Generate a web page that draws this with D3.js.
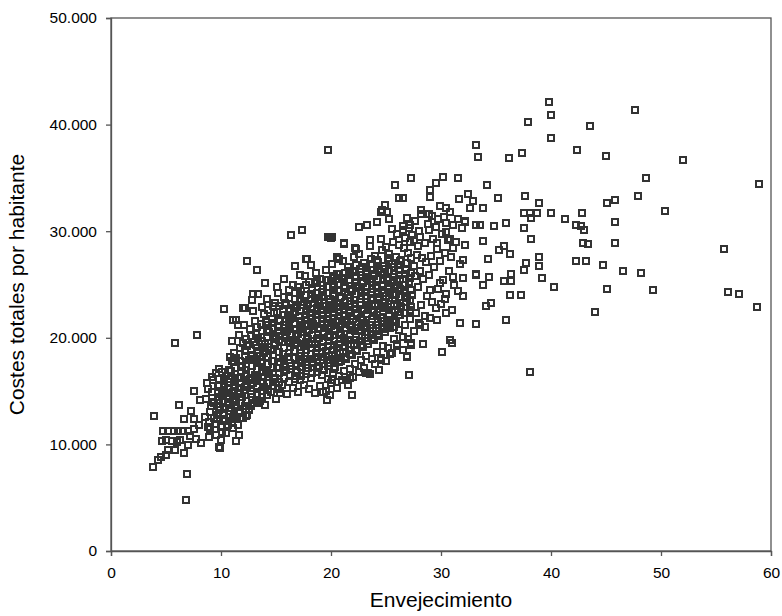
<!DOCTYPE html>
<html>
<head>
<meta charset="utf-8">
<script src="https://cdn.jsdelivr.net/npm/d3@7"></script>
<style>
  body { margin: 0; background: #fff; }
  svg text { font-family: "Liberation Sans", Arial, Helvetica, sans-serif; fill: #000; }
</style>
</head>
<body>
<svg id="chart" width="782" height="616"></svg>
<script>
// Axis settings and labels
const xTicks = [0, 10, 20, 30, 40, 50, 60];
const yTicks = [0, 10000, 20000, 30000, 40000, 50000];
const xTitle = "Envejecimiento";
const yTitle = "Costes totales por habitante";

// [envejecimiento, costes por habitante]
// Low-ageing municipalities (left tail of the cloud)
const puntosBajos = [
  [3.8,7900],[4.3,8500],[4.5,8800],[6.9,7200],[6.8,4800],[3.9,12700],[6.2,13700],[7.5,15000],
  [5.8,19500],[7.8,20300],[4.7,11300],[5.2,11300],[5.7,11300],[6.1,11300],[6.5,11300],[7.0,11300],
  [7.5,11400],[4.6,10300],[5.0,10400],[5.5,10300],[6.0,10200],[6.3,10400],[5.2,9500],[5.8,9500],
  [6.6,9200],[8.2,10100],[9.8,9800],[9.9,9700],[11.4,10300],[11.6,10900],[12.3,12700],[6.6,12400],
  [7.5,12400],[7.3,13100],[8.5,12600],[9.0,13000],[9.4,12500],[9.8,13200],[10.3,12800],[10.7,13400],
  [11.1,12600],[11.6,13000],[8.1,14200],[8.6,14300],[9.2,14000],[9.7,14400],[10.2,14100],[10.6,14300],
  [11.1,14200],[8.7,15800],[9.3,16000],[9.8,15600],[10.1,16800],[10.6,15900],[11.0,17800],[11.2,15400],
  [11.8,16200],[12.3,15700],[12.8,16000],[13.3,15500],[13.8,15900],[14.2,15800],[12.4,12800],[8.0,11800],
  [8.8,11600],[9.5,11900],[10.1,11200],[10.6,11800],[11.1,11500],[7.2,10800],[7.7,10500],[8.9,10700],
  [9.2,14900],[10.4,14800],[11.5,14700],[10.0,10400],[5.0,9000],[7.0,9900]
];

// Upper-left edge of the cloud
const puntosBorde = [
  [12.4,27200],[13.3,26400],[14.0,25100],[10.3,22700],[12.9,24100],[13.4,24100],[12.8,23500],[12.2,22800],
  [11.4,21700],[11.5,21200],[11.1,21700],[12.0,22800],[15.1,24800],[15.7,25500],[17.2,25900],[18.7,25300],
  [20.2,25600],[16.4,29600],[17.4,30100],[19.9,29500],[20.0,29400],[19.7,29500],[20.1,29500],[17.7,27400],
  [18.2,26800],[16.7,26700],[21.2,28800],[22.3,28300],[20.7,27400],[17.8,27400],[19.7,37600]
];

// Central cloud
const puntosNube = [
  [9.0,11400],[8.9,12100],[9.1,13600],[8.8,15200],[9.2,16300],
  [9.5,10900],[9.6,12400],[9.4,13900],[9.7,14800],[9.5,16700],
  [10.0,11600],[10.2,12900],[9.9,13500],[10.1,14600],[10.3,15400],[9.8,17100],
  [10.5,11100],[10.4,12200],[10.7,13800],[10.6,14500],[10.3,15700],[10.5,16400],[10.8,18200],
  [11.0,12000],[11.2,12800],[10.9,13400],[11.1,14900],[11.3,15600],[10.9,16900],[11.2,18600],[11.0,19700],
  [11.5,11800],[11.7,13100],[11.4,14000],[11.6,15300],[11.5,16200],[11.8,17400],[11.4,18100],[11.6,20300],
  [12.0,12500],[12.2,13600],[11.9,14400],[12.1,15100],[12.3,16600],[11.9,17300],[12.2,18800],[12.0,19500],[12.1,21200],
  [12.5,13200],[12.7,14700],[12.4,15500],[12.6,16100],[12.5,17900],[12.8,18400],[12.4,19200],[12.6,20800],
  [13.0,13900],[13.2,14200],[12.9,15800],[13.1,16500],[13.3,17100],[12.9,18000],[13.0,19600],[13.2,20400],[13.1,21600],[12.9,22500],
  [13.5,14100],[13.7,15000],[13.4,16300],[13.6,17600],[13.5,18300],[13.8,19000],[13.4,20000],[13.6,21300],[13.7,22900],
  [14.0,13700],[14.2,14600],[13.9,15400],[14.1,16800],[14.3,17500],[13.9,18600],[14.0,19400],[14.2,20700],[14.1,21500],[13.9,22200],[14.2,23600],
  [14.5,14900],[14.7,15900],[14.4,16600],[14.6,17800],[14.5,18900],[14.8,19900],[14.4,20500],[14.6,21800],[14.7,23000],
  [15.0,14300],[15.2,15200],[14.9,16200],[15.1,17200],[15.3,18100],[14.9,19300],[15.0,20200],[15.2,21000],[15.1,22400],[14.9,23300],[15.2,24200],
  [15.5,15600],[15.7,16900],[15.4,17700],[15.6,18500],[15.5,19600],[15.8,20900],[15.4,21700],[15.6,22700],[15.7,23800],
  [16.0,14700],[16.2,15900],[15.9,17000],[16.1,18200],[16.3,19100],[15.9,20000],[16.0,20600],[16.2,21400],[16.1,22100],[15.9,23100],[16.2,24500],
  [16.5,15300],[16.7,16400],[16.4,17400],[16.6,18800],[16.5,19800],[16.8,20800],[16.4,21900],[16.6,22800],[16.7,23600],[16.5,25000],
  [17.0,14900],[17.2,16000],[16.9,16800],[17.1,17900],[17.3,18600],[16.9,19500],[17.0,20400],[17.2,21200],[17.1,22000],[16.9,22900],[17.2,24000],[17.0,24800],
  [17.5,15600],[17.7,16600],[17.4,17600],[17.6,18300],[17.5,19200],[17.8,20100],[17.4,21000],[17.6,21700],[17.7,22500],[17.5,23400],[17.3,24400],[17.6,25800],
  [18.0,15200],[18.2,16200],[17.9,17200],[18.1,18000],[18.3,19000],[17.9,19900],[18.0,20700],[18.2,21500],[18.1,22300],[17.9,23200],[18.2,24100],[18.0,25200],
  [18.5,14800],[18.7,16800],[18.4,17700],[18.6,18600],[18.5,19400],[18.8,20300],[18.4,21300],[18.6,22100],[18.7,22800],[18.5,23700],[18.3,24700],[18.6,26100],
  [19.0,15500],[19.2,16500],[18.9,17400],[19.1,18200],[19.3,19100],[18.9,20000],[19.0,20900],[19.2,21800],[19.1,22600],[18.9,23500],[19.2,24300],[19.0,25500],
  [19.5,15000],[19.7,16100],[19.4,17000],[19.6,17900],[19.5,18800],[19.8,19700],[19.4,20500],[19.6,21400],[19.7,22200],[19.5,23000],[19.3,23900],[19.6,24800],[19.5,26400],
  [20.0,15800],[20.2,16700],[19.9,17600],[20.1,18400],[20.3,19300],[19.9,20200],[20.0,21100],[20.2,21900],[20.1,22700],[19.9,23600],[20.2,24500],[20.0,25300],[20.1,26900],
  [20.5,15300],[20.7,16400],[20.4,17300],[20.6,18100],[20.5,19000],[20.8,19900],[20.4,20800],[20.6,21600],[20.7,22400],[20.5,23300],[20.3,24100],[20.6,25000],[20.5,26000],
  [21.0,16000],[21.2,16900],[20.9,17800],[21.1,18700],[21.3,19600],[20.9,20400],[21.0,21300],[21.2,22100],[21.1,23000],[20.9,23800],[21.2,24700],[21.0,25600],[21.1,27200],
  [21.5,15600],[21.7,17100],[21.4,18000],[21.6,18900],[21.5,19800],[21.8,20700],[21.4,21500],[21.6,22400],[21.7,23200],[21.5,24000],[21.3,24900],[21.6,25900],[21.5,26600],
  [22.0,16300],[22.2,17500],[21.9,18400],[22.1,19300],[22.3,20100],[21.9,21000],[22.0,21800],[22.2,22700],[22.1,23500],[21.9,24400],[22.2,25200],[22.0,26200],[22.1,27600],
  [22.5,16800],[22.7,17900],[22.4,18800],[22.6,19700],[22.5,20600],[22.8,21400],[22.4,22200],[22.6,23100],[22.7,23900],[22.5,24800],[22.3,25700],[22.6,26500],[22.5,27900],
  [23.0,17200],[23.2,18300],[22.9,19100],[23.1,20000],[23.3,20900],[22.9,21700],[23.0,22600],[23.2,23400],[23.1,24300],[22.9,25100],[23.2,26000],[23.0,27000],
  [23.5,16600],[23.7,18000],[23.4,19400],[23.6,20300],[23.5,21200],[23.8,22000],[23.4,22900],[23.6,23700],[23.7,24600],[23.5,25500],[23.3,26300],[23.6,27400],[23.5,28600],
  [24.0,17500],[24.2,18700],[23.9,19800],[24.1,20600],[24.3,21500],[23.9,22400],[24.0,23200],[24.2,24100],[24.1,24900],[23.9,25800],[24.2,26700],[24.0,27700],
  [24.5,18100],[24.7,19200],[24.4,20200],[24.6,21000],[24.5,21900],[24.8,22800],[24.4,23600],[24.6,24500],[24.7,25400],[24.5,26200],[24.3,27100],[24.6,28200],[24.5,29300],
  [25.0,17800],[25.2,19000],[24.9,20500],[25.1,21300],[25.3,22200],[24.9,23000],[25.0,23900],[25.2,24700],[25.1,25600],[24.9,26500],[25.2,27500],[25.0,28500],
  [25.5,18600],[25.7,19900],[25.4,20900],[25.6,21700],[25.5,22600],[25.8,23500],[25.4,24300],[25.6,25200],[25.7,26000],[25.5,26900],[25.3,27900],[25.6,29000],[25.5,30200],
  [26.0,19400],[26.2,20700],[25.9,21500],[26.1,22400],[26.3,23300],[25.9,24100],[26.0,25000],[26.2,25900],[26.1,26800],[25.9,27600],[26.2,28700],[26.0,29700],
  [26.5,20100],[26.7,21200],[26.4,22900],[26.6,24500],[26.5,25500],[26.8,26400],[26.4,27300],[26.6,28400],[26.7,29400],[26.5,30500],
  [27.0,19900],[27.2,21800],[26.9,23700],[27.1,25200],[27.3,26100],[26.9,27000],[27.0,28000],[27.2,29000],[27.1,30300],[26.9,31200],
  [27.5,20600],[27.7,22300],[27.4,24000],[27.6,25800],[27.5,26700],[27.8,27800],[27.4,29600],[27.6,31000],
  [28.0,21400],[28.2,23100],[27.9,24800],[28.1,26300],[28.3,27500],[27.9,28600],[28.0,30000],[28.2,32000],
  [28.5,22000],[28.7,23900],[28.4,25500],[28.6,27100],[28.5,28900],[28.8,30700],
  [29.0,21900],[29.2,23400],[28.9,25900],[29.1,27700],[29.3,29300],[28.9,31600],[29.0,33200],
  [29.5,22800],[29.7,24600],[29.4,26600],[29.6,28300],[29.5,30400],
  [30.0,23200],[30.2,25400],[29.9,27200],[30.1,29700],[30.3,31300],[29.9,32400],
  [30.5,24100],[30.7,26300],[30.4,28000],[30.6,29200],
  [31.0,22600],[31.2,25000],[30.9,27600],[31.1,30600],
  [31.5,24400],[31.7,26900],[31.4,29000],[31.6,33000],
  [32.0,25600],[32.2,28700],[31.9,30300]
];

// Densest part of the cloud
const puntosNucleo = [
  [9.75,12800],[9.8,14200],[9.7,15500],
  [10.25,12400],[10.3,13300],[10.2,14000],[10.25,15000],[10.3,16000],
  [10.75,12600],[10.8,13100],[10.7,14300],[10.75,15200],[10.8,16100],[10.7,17000],
  [11.25,12400],[11.3,13700],[11.2,14500],[11.25,15900],[11.3,16600],[11.2,17700],
  [11.75,12900],[11.8,13900],[11.7,14800],[11.75,15800],[11.8,16900],[11.7,17800],[11.75,19000],
  [12.25,13300],[12.3,14100],[12.2,15400],[12.25,16400],[12.3,17500],[12.2,18300],[12.25,19900],
  [12.75,13600],[12.8,14400],[12.7,15000],[12.75,16800],[12.8,17400],[12.7,18900],[12.75,20200],
  [13.25,14600],[13.3,15400],[13.2,16100],[13.25,17800],[13.3,18600],[13.2,19300],[13.25,21000],
  [13.75,14400],[13.8,15800],[13.7,16900],[13.75,17300],[13.8,18800],[13.7,19700],[13.75,20600],
  [14.25,15100],[14.3,16300],[14.2,17000],[14.25,18200],[14.3,19100],[14.2,20100],[14.25,21200],[14.3,22600],
  [14.75,15500],[14.8,16100],[14.7,17300],[14.75,18400],[14.8,19500],[14.7,20900],[14.75,21400],[14.8,22300],
  [15.25,15900],[15.3,16700],[15.2,17700],[15.25,18700],[15.3,19800],[15.2,20600],[15.25,21600],[15.3,23000],
  [15.75,16200],[15.8,17300],[15.7,18000],[15.75,19000],[15.8,20300],[15.7,21200],[15.75,22100],[15.8,23300],
  [16.25,16500],[16.3,17600],[16.2,18600],[16.25,19500],[16.3,20300],[16.2,21000],[16.25,21800],[16.3,22600],[16.2,23700],
  [16.75,16100],[16.8,17000],[16.7,18100],[16.75,19300],[16.8,20200],[16.7,21300],[16.75,22400],[16.8,23100],[16.7,24200],
  [17.25,16400],[17.3,17300],[17.2,18300],[17.25,19100],[17.3,20000],[17.2,20800],[17.25,21600],[17.3,22500],[17.2,23600],
  [17.75,16900],[17.8,18000],[17.7,18900],[17.75,19600],[17.8,20500],[17.7,21300],[17.75,22100],[17.8,23000],[17.7,24000],[17.75,25000],
  [18.25,16700],[18.3,17600],[18.2,18500],[18.25,19400],[18.3,20300],[18.2,21100],[18.25,21900],[18.3,22700],[18.2,23600],[18.25,24500],
  [18.75,17200],[18.8,18200],[18.7,19000],[18.75,19900],[18.8,20800],[18.7,21700],[18.75,22500],[18.8,23300],[18.7,24200],[18.75,25100],
  [19.25,17000],[19.3,17900],[19.2,18700],[19.25,19600],[19.3,20400],[19.2,21300],[19.25,22100],[19.3,23000],[19.2,23800],[19.25,24600],
  [19.75,17400],[19.8,18300],[19.7,19200],[19.75,20100],[19.8,20900],[19.7,21800],[19.75,22600],[19.8,23400],[19.7,24200],[19.75,25400],
  [20.25,17100],[20.3,18000],[20.2,18900],[20.25,19700],[20.3,20600],[20.2,21500],[20.25,22300],[20.3,23100],[20.2,24000],[20.25,24900],[20.3,25800],
  [20.75,17700],[20.8,18600],[20.7,19400],[20.75,20300],[20.8,21100],[20.7,22000],[20.75,22900],[20.8,23700],[20.7,24500],[20.75,25500],
  [21.25,18200],[21.3,19100],[21.2,20000],[21.25,20900],[21.3,21700],[21.2,22600],[21.25,23400],[21.3,24300],[21.2,25200],[21.25,26100],
  [21.75,18500],[21.8,19400],[21.7,20300],[21.75,21200],[21.8,22000],[21.7,22900],[21.75,23700],[21.8,24600],[21.7,25400],[21.75,26300],
  [22.25,18900],[22.3,19800],[22.2,20600],[22.25,21500],[22.3,22300],[22.2,23200],[22.25,24100],[22.3,24900],[22.2,25800],[22.25,26800],
  [22.75,19300],[22.8,20200],[22.7,21000],[22.75,21900],[22.8,22700],[22.7,23600],[22.75,24400],[22.8,25300],[22.7,26200],
  [23.25,19700],[23.3,20500],[23.2,21400],[23.25,22200],[23.3,23100],[23.2,23900],[23.25,24800],[23.3,25600],[23.2,26600],
  [23.75,20000],[23.8,20900],[23.7,21800],[23.75,22600],[23.8,23500],[23.7,24300],[23.75,25200],[23.8,26000],[23.7,26900],
  [24.25,20400],[24.3,21200],[24.2,22100],[24.25,23000],[24.3,23800],[24.2,24700],[24.25,25500],[24.3,26400],[24.2,27300],
  [24.75,20800],[24.8,21600],[24.7,22500],[24.75,23300],[24.8,24200],[24.7,25000],[24.75,25900],[24.8,26700],
  [25.25,21100],[25.3,22000],[25.2,22900],[25.25,23700],[25.3,24600],[25.2,25400],[25.25,26300],[25.3,27200],
  [25.75,21500],[25.8,22400],[25.7,23200],[25.75,24000],[25.8,24900],[25.7,25700],[25.75,26600],
  [26.25,22100],[26.3,23000],[26.2,23800],[26.25,24600],[26.3,25500],[26.2,26400],[26.25,27200],
  [26.75,22300],[26.8,23400],[26.7,25000],[26.75,26000],[26.8,27000],
  [27.25,22900],[27.3,24500],[27.2,25600],[27.25,27500]
];

// Scattered municipalities around the cloud (x 13-34)
const puntosDispersos = [
  [25.8,34300],[29.5,34500],[27.3,35000],[30.2,35100],[31.5,35000],[26.2,33100],[32.5,33500],[30.5,32200],
  [24.6,32000],[25.1,31800],[29.2,31400],[23.3,30600],[24.2,30900],[25.3,31100],[27.2,30600],[26.5,30100],
  [28.1,29500],[28.9,30100],[30.5,30800],[32.2,31000],[33.2,30600],[30.8,29300],[23.5,29200],[21.2,28900],
  [22.2,28400],[20.5,27600],[27.5,29200],[29.6,28900],[31.1,28400],[32.0,27300],[33.2,26000],[31.1,25700],
  [29.9,25100],[29.0,24500],[30.4,23600],[32.0,23900],[31.7,21400],[33.2,21300],[30.5,22300],[29.6,21700],
  [28.5,21000],[27.2,22500],[27.3,19500],[26.9,18200],[27.1,16500],[30.8,19800],[31.0,19500],[26.0,19200],
  [24.4,17000],[23.4,16700],[21.7,16200],[24.5,17900],[25.4,18500],[28.1,21200],[26.7,24200],[27.2,23500],
  [26.0,23200],[25.7,21000],[21.9,14600],[17.0,14900],[23.2,16700],[21.4,16000],[26.9,18300],[27.2,22600],
  [27.3,19300],[19.6,14200],[18.5,14800],[15.4,14800],[13.4,13900],[20.1,16000],[24.9,32500],[24.5,31800],
  [28.2,31600],[30.8,31800],[31.5,31100],[29.0,33900],[26.5,33100],[30.5,29900],[29.7,31100],[22.5,30400],
  [28.4,19400],[30.1,18700],[19.3,14900],[19.9,14600],[26.5,18900]
];

// High-ageing municipalities (x > 32)
const puntosAltos = [
  [39.8,42100],[40.0,40900],[47.6,41400],[37.9,40200],[43.5,39900],[40.0,38700],[33.2,38100],[37.4,37300],
  [42.4,37600],[45.0,37100],[52.0,36700],[33.4,37000],[36.2,36900],[48.6,35000],[58.9,34400],[34.2,34300],
  [35.2,33100],[37.6,33300],[47.9,33300],[45.1,32600],[45.8,32900],[32.9,32800],[38.9,32600],[32.6,32200],
  [33.8,32200],[37.5,31700],[38.1,31700],[38.7,31700],[40.0,31700],[50.4,31900],[38.2,31200],[41.3,31100],
  [42.8,31700],[42.3,30600],[42.7,30500],[45.8,30900],[33.5,30600],[34.8,30500],[35.9,30800],[32.2,30900],
  [37.5,30300],[43.0,30100],[38.2,29300],[33.8,29100],[35.7,28600],[35.3,28200],[42.9,28900],[43.4,28800],
  [45.8,28900],[55.7,28300],[38.9,27600],[38.9,26700],[37.7,27000],[37.5,26400],[42.3,27200],[43.2,27200],
  [34.3,27400],[33.2,25900],[34.4,25700],[36.4,26000],[35.7,25300],[36.4,25300],[39.2,25600],[40.3,24800],
  [33.8,25000],[36.3,24000],[37.3,24000],[34.5,23300],[34.1,23000],[35.9,21700],[33.2,21300],[38.1,16800],
  [32.0,23900],[44.7,26800],[46.5,26300],[48.2,26100],[44.0,22400],[45.1,24600],[49.3,24500],[56.1,24300],
  [57.1,24100],[58.7,22900],[36.3,27900]
];

const puntos = [].concat(puntosBajos, puntosBorde, puntosNube, puntosNucleo, puntosDispersos, puntosAltos);

// Layout
const width = 782, height = 616;
const margin = { top: 18, right: 11, bottom: 65, left: 111 };
const x0 = margin.left, x1 = width - margin.right;
const y0 = height - margin.bottom, y1 = margin.top;

const x = d3.scaleLinear().domain([0, 60]).range([x0, x1]);
const y = d3.scaleLinear().domain([0, 50000]).range([y0, y1]);

const es = d3.formatLocale({ decimal: ",", thousands: ".", grouping: [3], currency: ["", " €"] });
const fmtMiles = es.format(",.0f");

const svg = d3.select("#chart");
const axisColor = "#555";

// Frame
svg.append("rect")
  .attr("x", x0).attr("y", y1)
  .attr("width", x1 - x0).attr("height", y0 - y1)
  .attr("fill", "none")
  .attr("stroke", axisColor)
  .attr("stroke-width", 1.3);

// Axes
const gx = svg.append("g")
  .attr("transform", `translate(0,${y0})`)
  .call(d3.axisBottom(x).tickValues(xTicks).tickSize(5).tickPadding(11).tickFormat(d3.format("d")));
const gy = svg.append("g")
  .attr("transform", `translate(${x0},0)`)
  .call(d3.axisLeft(y).tickValues(yTicks).tickSize(5).tickPadding(9).tickFormat(fmtMiles));

[gx, gy].forEach(g => {
  g.select(".domain").attr("stroke", axisColor).attr("stroke-width", 1.3);
  g.selectAll(".tick line").attr("stroke", axisColor).attr("stroke-width", 1.3);
  g.selectAll(".tick text")
    .attr("fill", "#000")
    .style("font-size", "15.5px")
    .style("font-family", "'Liberation Sans', Arial, sans-serif");
});

// Markers: open squares
svg.append("g")
  .selectAll("rect")
  .data(puntos)
  .join("rect")
  .attr("x", d => Math.round(x(d[0])) - 3)
  .attr("y", d => Math.round(y(d[1])) - 3)
  .attr("width", 6)
  .attr("height", 6)
  .attr("fill", "none")
  .attr("stroke", "#333")
  .attr("stroke-width", 2)
  .attr("shape-rendering", "crispEdges");

// Axis titles
svg.append("text")
  .attr("x", (x0 + x1) / 2)
  .attr("y", 607)
  .attr("text-anchor", "middle")
  .style("font-size", "21px")
  .text(xTitle);

svg.append("text")
  .attr("transform", `translate(24,${(y0 + y1) / 2}) rotate(-90)`)
  .attr("text-anchor", "middle")
  .style("font-size", "21px")
  .text(yTitle);
</script>
</body>
</html>
